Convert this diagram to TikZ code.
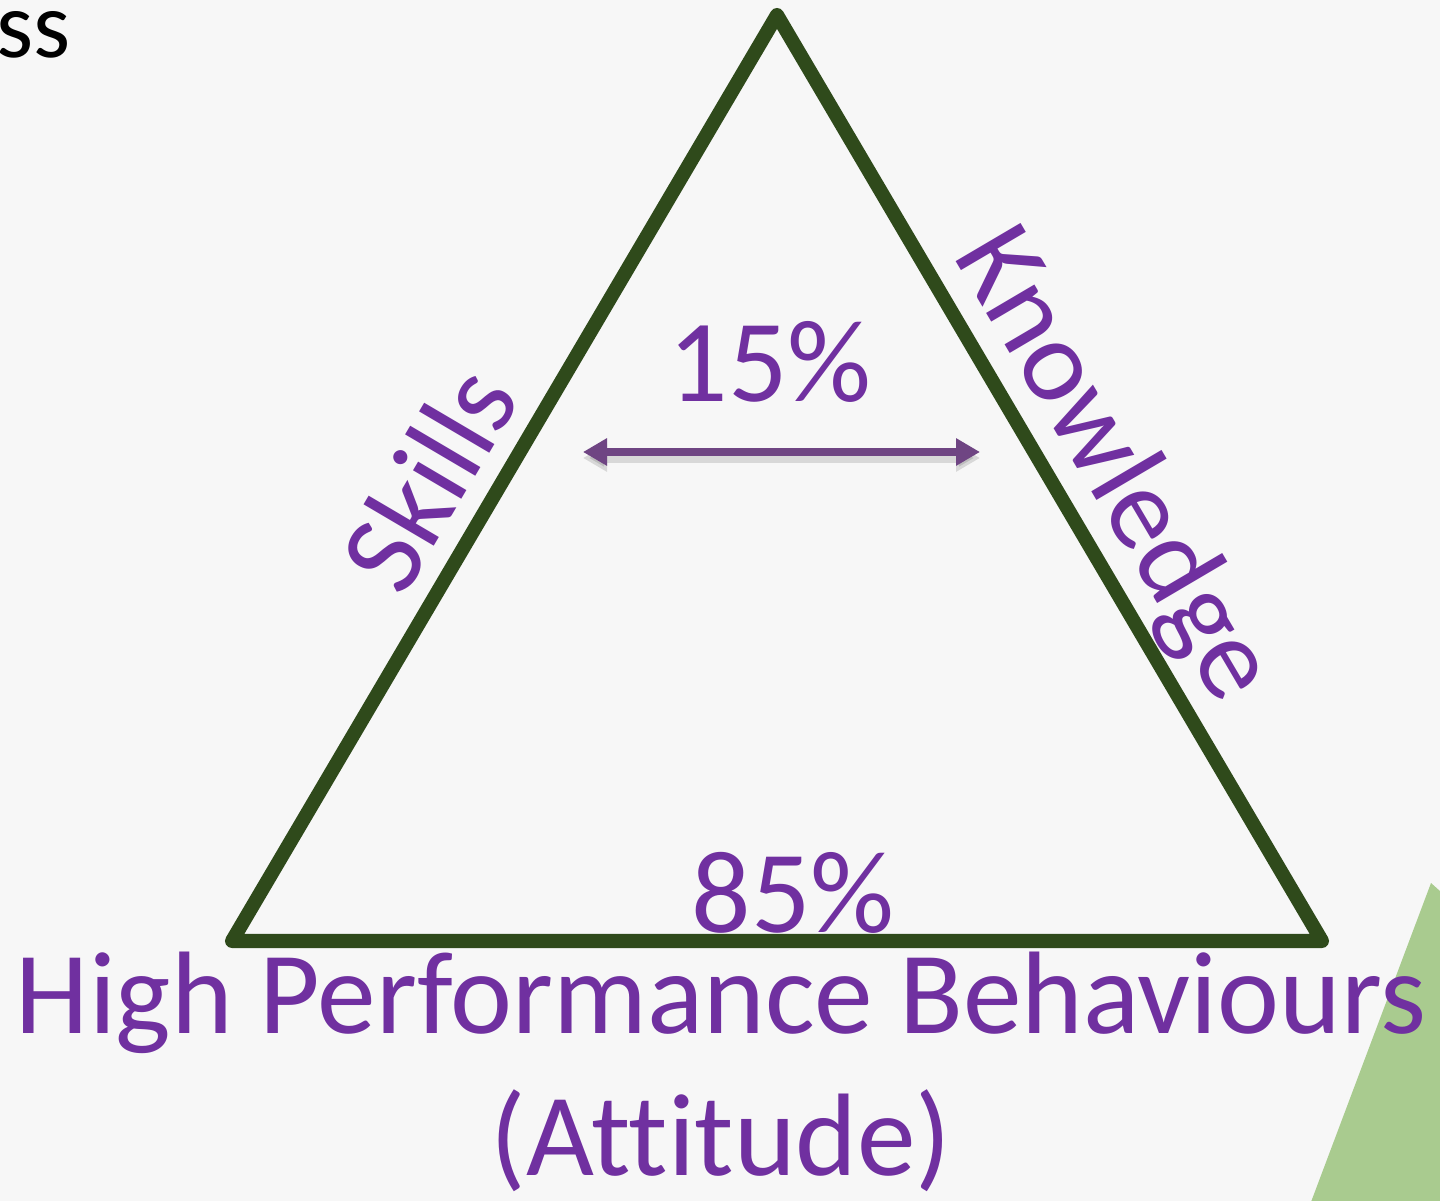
\documentclass[tikz,border=0pt]{standalone}
\usepackage{fontspec}
\setmainfont{Carlito}[Ligatures=NoCommon]
\usetikzlibrary{arrows.meta,positioning}
\definecolor{pagebg}{HTML}{F7F7F7}
\definecolor{forest}{HTML}{2F4A1B}
\definecolor{violet}{HTML}{7030A0}
\definecolor{plum}{HTML}{6F4583}
\definecolor{leaf}{HTML}{A9CB8F}
\begin{document}
\begin{tikzpicture}[every node/.style={inner sep=0pt},
  lbl/.style={text=violet,font=\fontsize{33.4}{40}\selectfont},
  side/.style={draw=forest,line width=4pt,line join=round,line cap=round},
  a/.style={{Triangle[length=2.4mm,width=2.6mm]}-{Triangle[length=2.4mm,width=2.6mm]},draw=plum,line width=2.2pt}]
  \useasboundingbox (0,0) rectangle (14.4,12);
  \fill[pagebg] (-0.1,-0.1) rectangle (14.5,12.1);
  \fill[leaf] (14.31,3.17) -- (14.5,3.0) -- (14.5,-0.1) -- (13.08,-0.1) -- cycle;
  \node[anchor=base west,font=\fontsize{27}{32}\selectfont] (tt) at (-0.04,11.42) {ss};
  % the triangle
  \coordinate (top) at (7.77,11.85);
  \coordinate (bl) at (2.32,2.59);
  \coordinate (br) at (13.22,2.59);
  \draw[side] (top) -- (br) -- (bl) -- cycle;
  \node[lbl,rotate=59.5] (sk) at (4.28,7.22) {Skills};
  \node[lbl,rotate=-59.5] (kn) at (11.12,7.34) {Knowledge};
  % top share with its double arrow
  \node[lbl,anchor=base] (top15) at (7.70,7.98) {15\%};
  \coordinate (al) at (5.83,7.48);
  \coordinate (ar) at (9.80,7.48);
  \draw[a,draw=black,opacity=0.12,line width=3pt] ([yshift=-0.6mm]al) -- ([yshift=-0.6mm]ar);
  \draw[a] (al) -- (ar);
  % base share and caption
  \node[lbl,anchor=base] (base85) at (7.93,2.68) {85\%};
  \node[lbl,anchor=base] (hpb) at (7.21,1.67) {High Performance Behaviours};
  \node[lbl,anchor=base] (att) at (7.21,0.25) {(Attitude)};
\end{tikzpicture}
\end{document}
